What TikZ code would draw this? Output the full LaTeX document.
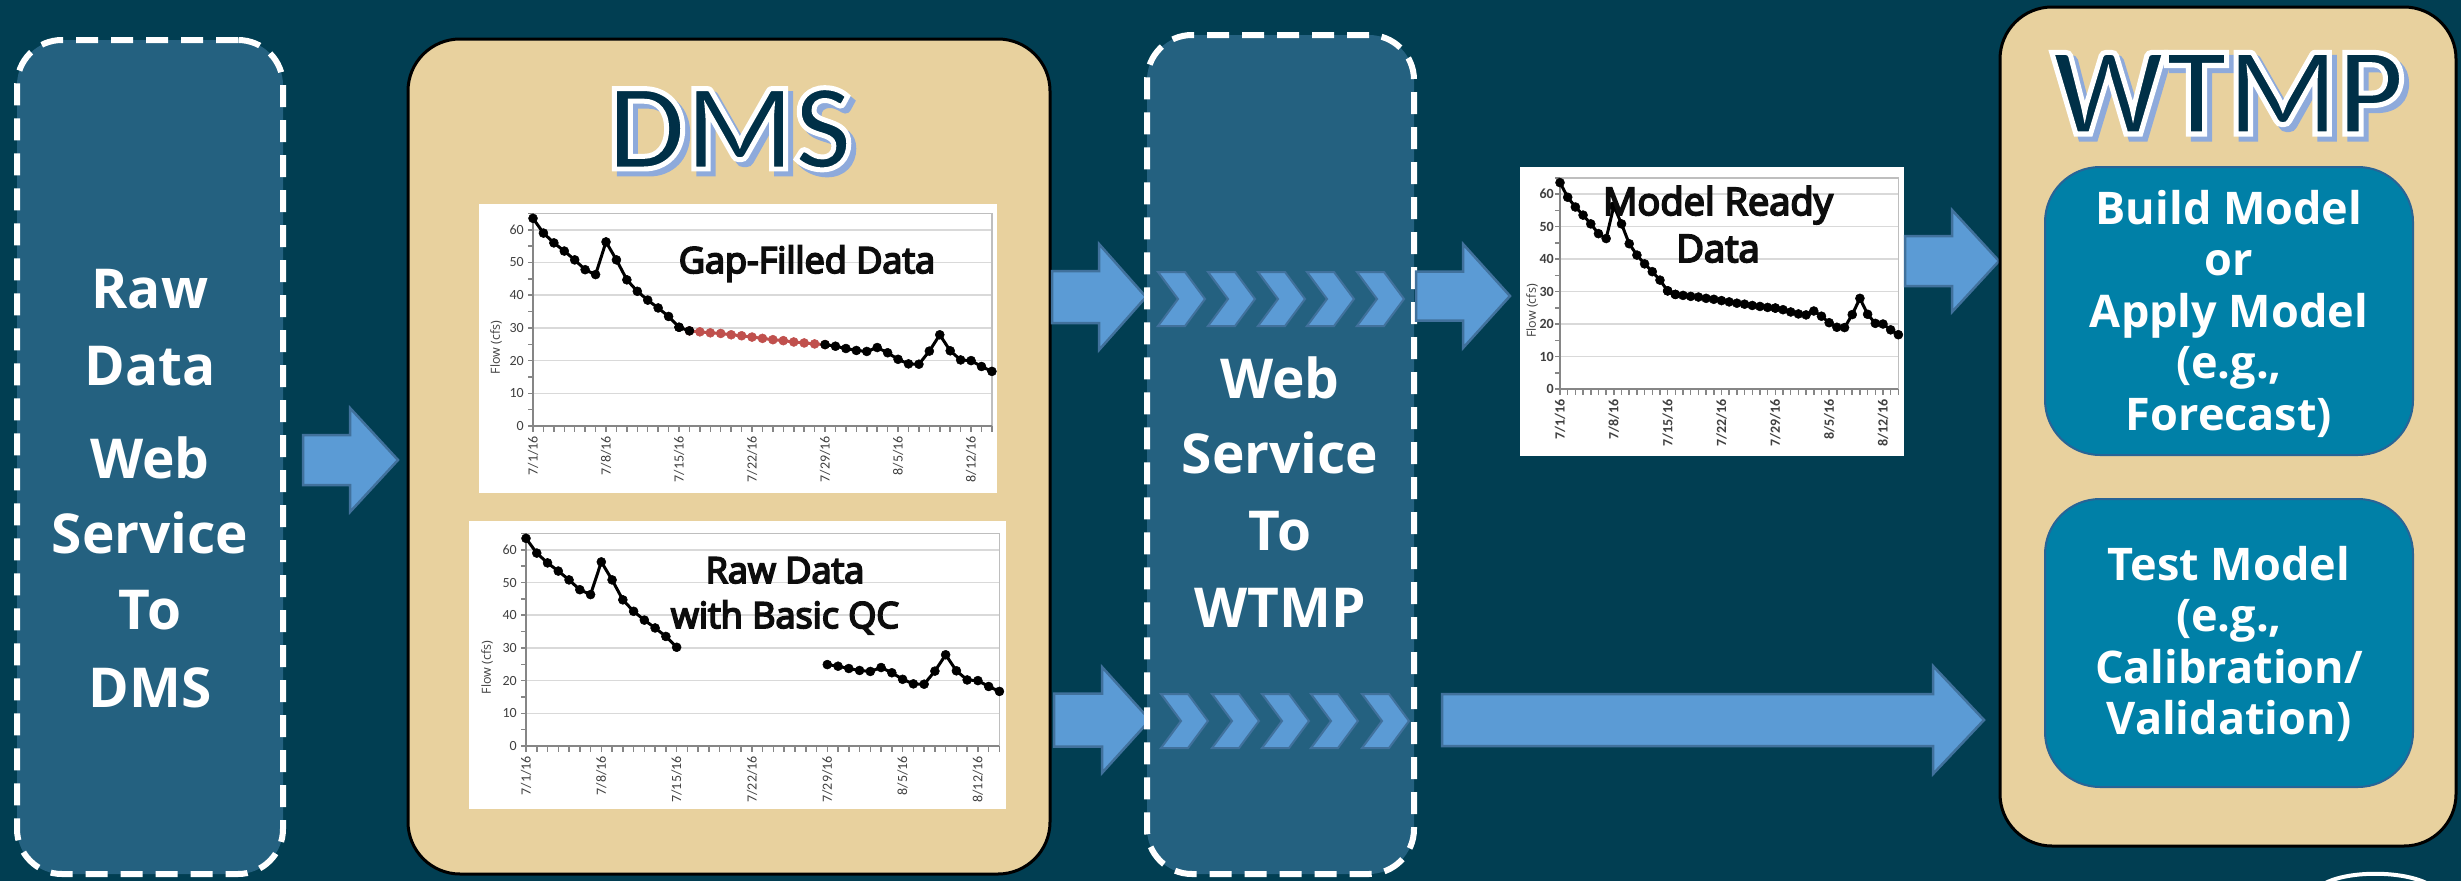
\documentclass[tikz,border=0pt]{standalone}
\usepackage{fontspec}
\setmainfont{Open Sans}
\newfontfamily\calib{Carlito}
\newfontfamily\calibob[FakeBold=4]{Carlito Bold}
\newfontfamily\chartfont[FakeBold=5]{Open Sans}
\definecolor{bgteal}{RGB}{1,62,82}
\definecolor{boxblue}{RGB}{36,97,128}
\definecolor{tanfill}{RGB}{232,209,158}
\definecolor{arrowblue}{RGB}{91,155,213}
\definecolor{arrowedge}{RGB}{65,113,156}
\definecolor{innerblue}{RGB}{0,128,167}
\definecolor{inneredge}{RGB}{40,100,150}
\definecolor{navy}{RGB}{0,48,71}
\definecolor{shadowblue}{RGB}{142,170,219}
\definecolor{gridgray}{RGB}{217,217,217}
\definecolor{axisgray}{RGB}{134,134,134}
\definecolor{labgray}{RGB}{64,64,64}
\definecolor{redpt}{RGB}{192,80,77}
\definecolor{inktext}{RGB}{13,13,13}

\tikzset{
  plainbox/.style={inner sep=0pt, outer sep=0pt},
  dashbox/.style={plainbox, fill=boxblue, draw=white, line width=6pt, dash pattern=on 22pt off 13pt, rounded corners=45pt},
  tanbox/.style={plainbox, fill=tanfill, draw=black, line width=3pt, rounded corners=52pt},
  inbox/.style={plainbox, fill=innerblue, draw=inneredge, line width=2pt, rounded corners=55pt},
  whitebg/.style={plainbox, fill=white},
  blk/.style={fill=arrowblue, draw=arrowedge, line width=2.5pt, line join=miter},
  boxtxt/.style={text=white, anchor=base, inner sep=0pt, font=\fontsize{55}{60}\selectfont\bfseries},
  intxt/.style={text=white, anchor=base, inner sep=0pt, font=\fontsize{45}{50}\selectfont\bfseries},
  charttxt/.style={text=inktext, anchor=base, inner sep=0pt, font=\chartfont\fontsize{36}{40}\selectfont},
  wa/.style={anchor=base, inner sep=0pt, font=\calibob\fontsize{124}{126}\selectfont},
  gridl/.style={draw=gridgray, line width=1.5pt},
  framel/.style={draw=gridgray!70!gray, line width=1.5pt},
  axisl/.style={draw=axisgray, line width=1.5pt},
  ylab/.style={anchor=east, inner sep=0pt, text=labgray, font=\calib\fontsize{14}{14}\selectfont},
  xlab/.style={anchor=east, rotate=90, inner sep=0pt, text=labgray, font=\calib\fontsize{14}{14}\selectfont},
  flowlab/.style={rotate=90, inner sep=0pt, text=labgray, font=\fontsize{12.5}{13}\selectfont},
  series/.style={line width=3pt, line join=round, mark=*, mark size=4.5pt, mark options={line width=0.5pt}},
}

% series pieces
\newcommand\sA[1]{\draw[series,#1] plot coordinates {(0,63.5) (1,59) (2,56) (3,53.5) (4,50.8) (5,47.8) (6,46.3) (7,56.3) (8,50.8) (9,44.7) (10,41.2) (11,38.5) (12,36.1) (13,33.5) (14,30.2)};}
\newcommand\sAb[1]{\draw[series,#1] plot coordinates {(14,30.2) (15,29.1)};}
\newcommand\sR[1]{\draw[series,#1] plot coordinates {(15,29.1) (16,28.8) (17,28.5) (18,28.3) (19,27.9) (20,27.6) (21,27.2) (22,26.8) (23,26.4) (24,26.1) (25,25.7) (26,25.4) (27,25.1) (28,24.9)};}
\newcommand\sC[1]{\draw[series,#1] plot coordinates {(28,24.9) (29,24.4) (30,23.7) (31,23.1) (32,22.8) (33,24.0) (34,22.4) (35,20.4) (36,19.0) (37,18.9) (38,22.9) (39,27.9) (40,23.0) (41,20.2) (42,20.0) (43,18.2) (44,16.7)};}

% chart frame: #1 prefix, #2 ox, #3 oy, #4 px/day, #5 px/unit, #6 flow offset, #7 ylabel offset, #8 series code
\newcommand\chartbase[8]{%
\begin{scope}[shift={(#2,#3)}, x=#4pt, y=#5pt]
  \foreach \v in {10,20,...,60} \draw[gridl] (0,\v) -- (44,\v);
  \draw[framel] (0,65) -- (44,65) -- (44,0);
  \foreach \v in {0,5,...,65} \draw[axisl] (0,\v) -- ++(-5pt,0pt);
  \foreach \d in {0,...,44} \draw[axisl] (\d,0) -- ++(0pt,-6pt);
  \draw[axisl] (0,65) -- (0,0) -- (44,0);
  \foreach \v in {0,10,...,60} \node[ylab, xshift=-#7pt] (#1y\v) at (0,\v) {\v};
  \foreach \l [count=\i from 0] in {7/1/16,7/8/16,7/15/16,7/22/16,7/29/16,8/5/16,8/12/16} {%
    \pgfmathtruncatemacro\dd{7*\i}
    \node[xlab] (#1x\i) at ([yshift=-10pt]\dd,0) {\l};}
  \node[flowlab] (#1f) at ([xshift=-#6pt]0,24) {Flow (cfs)};
  #8
\end{scope}}

% word art title: #1 name, #2 x, #3 baseline y, #4 text
% navy fill with white stroke (fake-bold stroke colour set to white)
\newcommand\wordart[4]{%
  \node[wa, text=shadowblue] (#1s) at (#2+5,#3+5) {#4};
  \node[wa, text=navy] (#1) at (#2,#3) {\special{pdf:code 1 1 1 RG}#4};}

% block arrow: #1 name, #2 x0, #3 head base x, #4 tip x, #5 y centre, #6 half shaft, #7 half head
\newcommand\blockarrow[7]{%
  \coordinate (#1tail) at (#2,#5);
  \coordinate (#1tip) at (#4,#5);
  \draw[blk] (#1tail) ++(0,-#6) -- (#3,#5-#6) -- (#3,#5-#7) -- (#1tip) -- (#3,#5+#7) -- (#3,#5+#6) -- (#2,#5+#6) -- cycle;}

% chevron: #1 name, #2 left x, #3 top y
\newcommand\chev[3]{%
  \coordinate (#1) at (#2,#3);
  \draw[blk, line width=2pt] (#1) -- ++(27,0) -- ++(20,27) -- ++(-20,27) -- ++(-27,0) -- ++(20,-27) -- cycle;}

\begin{document}
\begin{tikzpicture}[x=1pt,y=-1pt]
\useasboundingbox (0,0) rectangle (2461,881);
\fill[bgteal] (0,0) rectangle (2461,881);

% ---------- left dashed box ----------
\node[dashbox, minimum width=266pt, minimum height=834pt] (src) at (150,457) {};
\node[boxtxt] (src1) at (150,308) {Raw};
\node[boxtxt] (src2) at (150,385) {Data};
\node[boxtxt] (src3) at (150,478) {Web};
\node[boxtxt] (src4) at (150,553) {Service};
\node[boxtxt] (src5) at (150,629) {To};
\node[boxtxt] (src6) at (150,707) {DMS};

% ---------- DMS box ----------
\node[tanbox, minimum width=642pt, minimum height=835pt] (dms) at (729,456.5) {};
\wordart{dmst}{730}{169}{DMS}

\node[whitebg, minimum width=518pt, minimum height=289pt] (cabg) at (738,348.5) {};
\chartbase{ca}{533}{426}{10.43}{3.27}{37}{9}{\sR{redpt}\sA{black}\sAb{black}\sC{black}}
\node[charttxt] (catxt) at (807,273) {Gap-Filled Data};

\node[whitebg, minimum width=537pt, minimum height=288pt] (cbbg) at (737.5,665) {};
\chartbase{cb}{526}{746}{10.76}{3.27}{39}{9}{\sA{black}\sC{black}}
\node[charttxt] (cbtxt1) at (785,583) {Raw Data};
\node[charttxt] (cbtxt2) at (785,628) {with Basic QC};

% ---------- arrows ----------
\blockarrow{a1}{303}{350}{398}{460}{25}{52}
\blockarrow{a2}{1052}{1099}{1146}{297}{26}{53}
\blockarrow{a3}{1054}{1102}{1150}{720}{26.5}{53}

% ---------- web service box ----------
\node[dashbox, minimum width=267pt, minimum height=839pt] (web) at (1280.5,454.5) {};
\chev{t1}{1158}{272}\chev{t2}{1208}{272}\chev{t3}{1258}{272}\chev{t4}{1307}{272}\chev{t5}{1357}{272}
\chev{b1}{1161}{694}\chev{b2}{1212}{694}\chev{b3}{1262}{694}\chev{b4}{1311}{694}\chev{b5}{1362}{694}
\node[boxtxt] (web1) at (1280,398) {Web};
\node[boxtxt] (web2) at (1280,473) {Service};
\node[boxtxt] (web3) at (1280,550) {To};
\node[boxtxt] (web4) at (1280,627) {WTMP};

\blockarrow{a4}{1416}{1463}{1510}{296}{24.5}{52}
\blockarrow{a6}{1442}{1933}{1984}{720}{26}{54}

% ---------- model ready chart ----------
\node[whitebg, minimum width=384pt, minimum height=289pt] (ccbg) at (1712,311.5) {};
\begin{scope}
\tikzset{ylab/.append style={font=\calib\bfseries\fontsize{14}{14}\selectfont},
         xlab/.append style={font=\calib\bfseries\fontsize{14}{14}\selectfont}}
\chartbase{cc}{1560}{389}{7.69}{3.25}{28}{6}{\sA{black}\sAb{black}\sR{black}\sC{black}}
\end{scope}
\node[charttxt, font=\chartfont\fontsize{38}{40}\selectfont] (cctxt1) at (1718,215) {Model Ready};
\node[charttxt, font=\chartfont\fontsize{38}{40}\selectfont] (cctxt2) at (1718,262) {Data};

\blockarrow{a5}{1905}{1952}{1999}{261}{25}{51}

% ---------- WTMP box ----------
\node[tanbox, minimum width=456pt, minimum height=839pt] (wtmp) at (2228,426.5) {};
\begin{scope}
\tikzset{wa/.append style={font=\calibob\fontsize{126}{128}\selectfont}}
\wordart{wtmpt}{2228}{134}{WTMP}
\end{scope}

\node[inbox, minimum width=368pt, minimum height=288pt] (build) at (2229,311) {};
\node[intxt] (bl1) at (2229,224) {Build Model};
\node[intxt] (bl2) at (2229,275.5) {or};
\node[intxt] (bl3) at (2229,327) {Apply Model};
\node[intxt] (bl4) at (2229,378.5) {(e.g.,};
\node[intxt] (bl5) at (2229,430) {Forecast)};

\node[inbox, minimum width=368pt, minimum height=288pt] (test) at (2229,643) {};
\node[intxt] (tl1) at (2229,580) {Test Model};
\node[intxt] (tl2) at (2229,631.5) {(e.g.,};
\node[intxt] (tl3) at (2229,683) {Calibration/};
\node[intxt] (tl4) at (2229,734.5) {Validation)};

% partial logo ring at bottom right
\draw[white, line width=4pt] (2322,885) .. controls (2345,870) and (2405,870) .. (2430,885);
\end{tikzpicture}
\end{document}
